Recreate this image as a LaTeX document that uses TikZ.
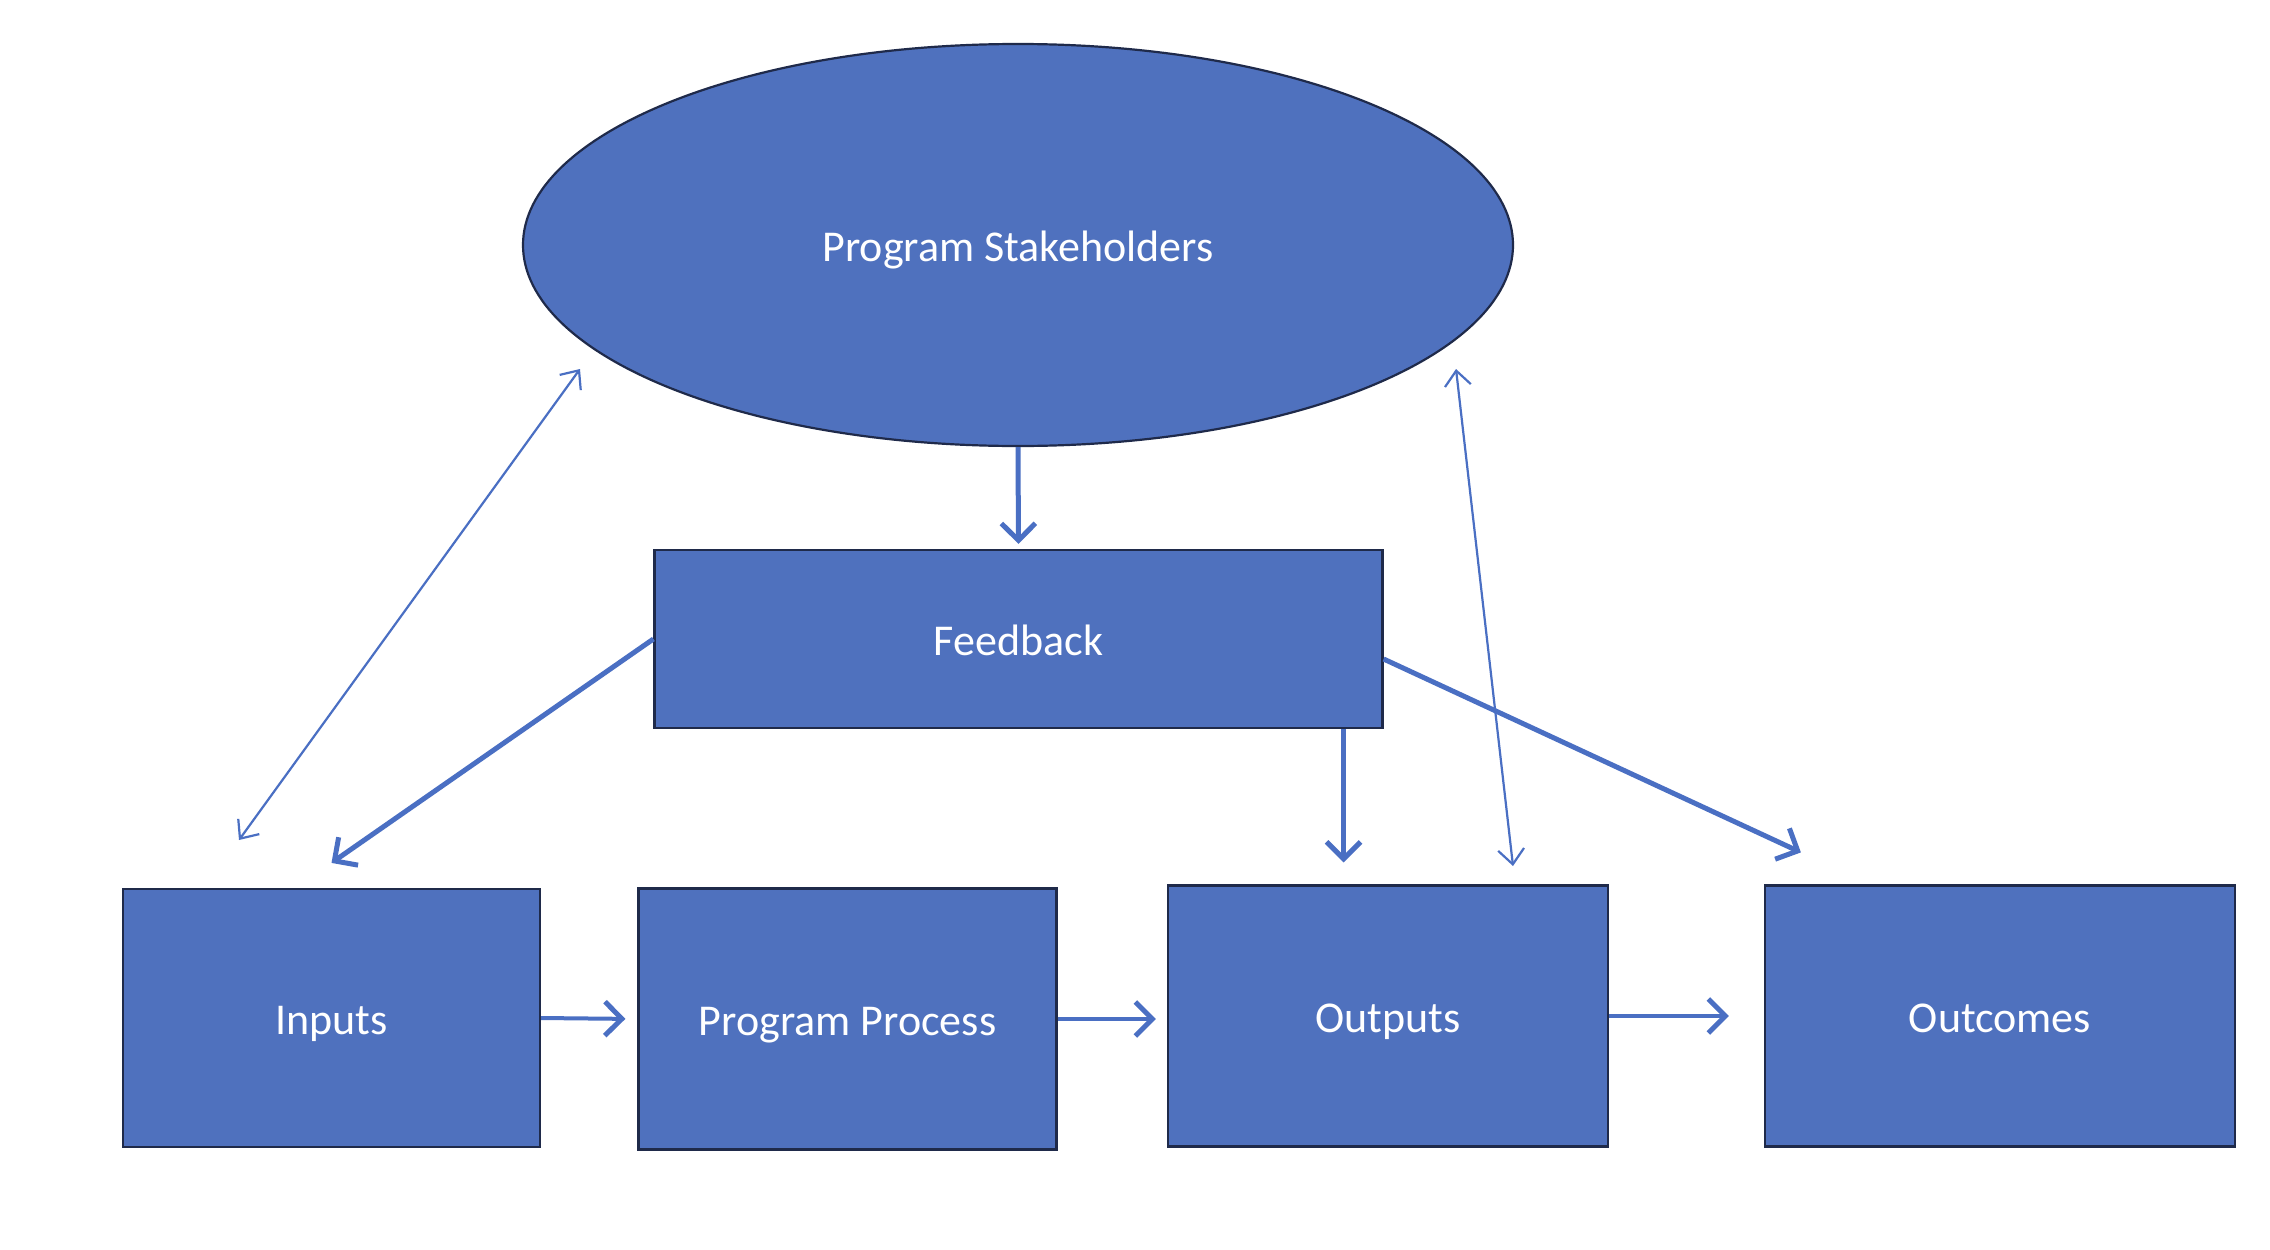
\documentclass[tikz,border=0pt]{standalone}
\usepackage{fontspec}
\setmainfont{Carlito}
\usetikzlibrary{arrows.meta,shapes.geometric,calc}
\definecolor{boxblue}{HTML}{4F71BE}
\definecolor{edgenavy}{HTML}{1F2A4A}
\definecolor{arrowblue}{HTML}{4A6FC3}
\begin{document}
\begin{tikzpicture}[x=1pt,y=-1pt,
  shapebox/.style={draw=edgenavy, line width=2.2pt, fill=boxblue, text=white, inner sep=0pt,
    font=\fontsize{44}{53}\selectfont, text height=32pt, text depth=0pt},
  rectbox/.style={shapebox, rectangle},
  thickarrow/.style={draw=arrowblue, line width=5pt, -{Straight Barb[length=17pt,width=34pt,line width=5pt]}},
  thinarrow/.style={draw=arrowblue, line width=2.2pt, {Straight Barb[length=15pt,width=26pt,line width=2.2pt]}-{Straight Barb[length=15pt,width=26pt,line width=2.2pt]}}
]
\useasboundingbox (0,0) rectangle (2270,1250);
\fill[white] (0,0) rectangle (2270,1250);

\node[shapebox, ellipse, minimum width=990pt, minimum height=402pt] (sh) at (1018,245) {Program Stakeholders};
\node[rectbox, minimum width=728pt, minimum height=178pt] (fb) at (1018.5,639) {Feedback};
\node[rectbox, minimum width=417pt, minimum height=258pt] (in) at (331.5,1018) {Inputs};
\node[rectbox, minimum width=418pt, minimum height=261pt] (pp) at (847.5,1019) {Program Process};
\node[rectbox, minimum width=440pt, minimum height=261pt] (out) at (1388,1016) {Outputs};
\node[rectbox, minimum width=470pt, minimum height=261pt] (oc) at (2000,1016) {Outcomes};

% free ends of the thin double arrows
\coordinate (lt) at (580,369);
\coordinate (lb) at (239,840);
\coordinate (rt) at (1456,369);
\coordinate (rb) at (1513,866);

\draw[thickarrow, shorten >=5pt] (sh.south) -- (fb.north);
\draw[thickarrow] (fb.west) -- ($(in.north)+(0,-25)$);
\draw[thickarrow] ($(fb.south east)+(-40,0)$) -- ($(fb.south east |- out.north)+(-40,-22)$);
\draw[thickarrow] ($(fb.east)+(0,20)$) -- ($(oc.north west)+(37,-32)$);

\draw[thinarrow] (lt) -- (lb);
\draw[thinarrow] (rt) -- (rb);

\draw[thickarrow, line width=4pt, shorten >=12pt] (in.east) -- (pp.west);
\draw[thickarrow, line width=4pt, shorten >=11pt] (pp.east) -- (out.west |- pp.east);
\draw[thickarrow, line width=4pt, shorten >=35pt] (out.east) -- (oc.west);
\end{tikzpicture}
\end{document}
